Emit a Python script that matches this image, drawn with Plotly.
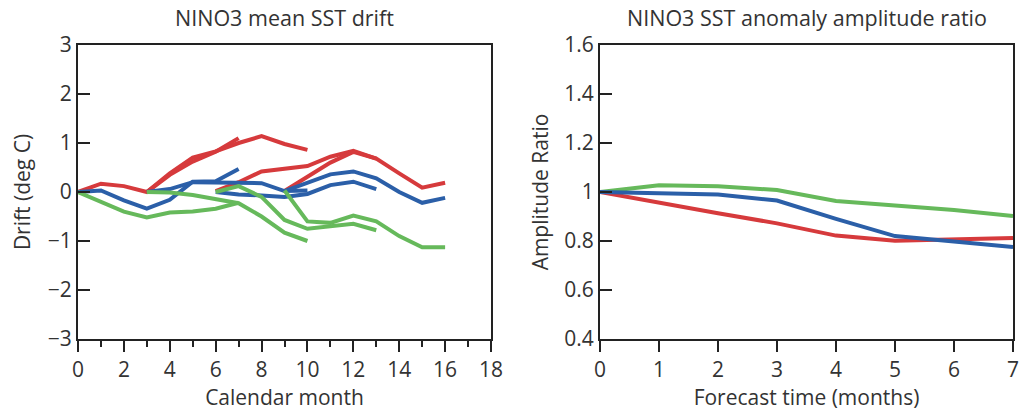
import plotly.graph_objects as go

# ---- Left panel: NINO3 mean SST drift (forecasts starting at months 0, 3, 6, 9) ----
start_months = [0, 3, 6, 9]
lead_steps = [0, 1, 2, 3, 4, 5, 6, 7]

red_drift = [
    [0.0, 0.17, 0.12, 0.0, 0.35, 0.62, 0.82, 1.1],
    [0.0, 0.38, 0.7, 0.83, 1.0, 1.14, 0.98, 0.86],
    [0.02, 0.2, 0.42, 0.47, 0.53, 0.72, 0.84, 0.68],
    [0.02, 0.32, 0.6, 0.82, 0.68, 0.38, 0.09, 0.19],
]
blue_drift = [
    [0.0, 0.03, -0.17, -0.34, -0.16, 0.21, 0.22, 0.47],
    [0.0, 0.06, 0.2, 0.2, 0.18, 0.18, 0.02, 0.03],
    [0.0, -0.05, -0.07, -0.1, -0.04, 0.14, 0.21, 0.06],
    [0.02, 0.2, 0.36, 0.42, 0.28, 0.0, -0.22, -0.12],
]
green_drift = [
    [0.0, -0.2, -0.4, -0.52, -0.42, -0.4, -0.34, -0.22],
    [0.0, -0.01, -0.06, -0.15, -0.23, -0.5, -0.83, -1.0],
    [0.0, 0.12, -0.1, -0.57, -0.75, -0.71, -0.65, -0.78],
    [0.03, -0.6, -0.63, -0.48, -0.6, -0.9, -1.13, -1.13],
]

# ---- Right panel: NINO3 SST anomaly amplitude ratio ----
forecast_time = [0, 1, 2, 3, 4, 5, 6, 7]
green_ratio = [1.0, 1.028, 1.023, 1.008, 0.963, 0.944, 0.927, 0.902]
red_ratio = [1.0, 0.955, 0.913, 0.872, 0.822, 0.801, 0.806, 0.812]
blue_ratio = [1.0, 0.995, 0.99, 0.965, 0.89, 0.82, 0.799, 0.775]

RED = "#d63a3c"
BLUE = "#2b5fa8"
GREEN = "#66b95b"
FONT = "Open Sans"
TXT = "#333333"
LW = 4

W, H = 1025, 417


def px_x(p):
    return p / W


def px_y(p):
    return 1 - p / H


fig = go.Figure()

for series, color in [(red_drift, RED), (blue_drift, BLUE), (green_drift, GREEN)]:
    for s0, vals in zip(start_months, series):
        fig.add_trace(go.Scatter(
            x=[s0 + k for k in lead_steps], y=vals, mode="lines",
            line=dict(color=color, width=LW), xaxis="x", yaxis="y",
            showlegend=False, hoverinfo="skip"))

for vals, color in [(green_ratio, GREEN), (red_ratio, RED), (blue_ratio, BLUE)]:
    fig.add_trace(go.Scatter(
        x=forecast_time, y=vals, mode="lines",
        line=dict(color=color, width=LW), xaxis="x2", yaxis="y2",
        showlegend=False, hoverinfo="skip"))

axis_common = dict(showgrid=False, zeroline=False, showline=True, mirror=True,
                   linecolor="#222222", linewidth=2, tickcolor="#222222", automargin=False,
                   tickfont=dict(family=FONT, size=21, color=TXT),
                   title_font=dict(family=FONT, size=21, color=TXT))

ydom = [px_y(339), px_y(45)]

fig.update_layout(
    width=W, height=H,
    margin=dict(l=0, r=0, t=0, b=0),
    plot_bgcolor="white", paper_bgcolor="white",
    hovermode=False,
    xaxis=dict(domain=[px_x(78), px_x(491)], range=[0, 18], dtick=2, tick0=0,
               ticks="outside", ticklen=11, tickwidth=2,
               minor=dict(dtick=1, ticks="outside", ticklen=6, tickwidth=2, tickcolor="#222222"),
               title=dict(text="Calendar month", standoff=2), anchor="y", **axis_common),
    yaxis=dict(domain=ydom, range=[-3, 3], dtick=1, ticks="inside", ticklen=12, tickwidth=2,
               title=dict(text="Drift (deg C)", standoff=11), anchor="x", **axis_common),
    xaxis2=dict(domain=[px_x(600), px_x(1013)], range=[0, 7], dtick=1,
                ticks="outside", ticklen=11, tickwidth=2,
                title=dict(text="Forecast time (months)", standoff=2), anchor="y2", **axis_common),
    yaxis2=dict(domain=ydom, range=[0.4, 1.6], dtick=0.2, ticks="inside", ticklen=12, tickwidth=2,
                tickformat="~g",
                title=dict(text="Amplitude Ratio", standoff=10), anchor="x2", **axis_common),
    annotations=[
        dict(text="NINO3 mean SST drift", x=px_x(284.5), y=px_y(18), xref="paper", yref="paper",
             xanchor="center", yanchor="middle", showarrow=False, borderpad=0,
             font=dict(family=FONT, size=21.5, color=TXT)),
        dict(text="NINO3 SST anomaly amplitude ratio", x=px_x(806.5), y=px_y(18), xref="paper",
             yref="paper", xanchor="center", yanchor="middle", showarrow=False, borderpad=0,
             font=dict(family=FONT, size=21.5, color=TXT)),
    ],
)

# remove the default 8px page margin so the figure fills the 1025x417 window exactly
fig.write_html("out.html", config={"displayModeBar": False, "staticPlot": True},
               post_script="document.body.style.margin='0px';document.body.style.overflow='hidden';")
